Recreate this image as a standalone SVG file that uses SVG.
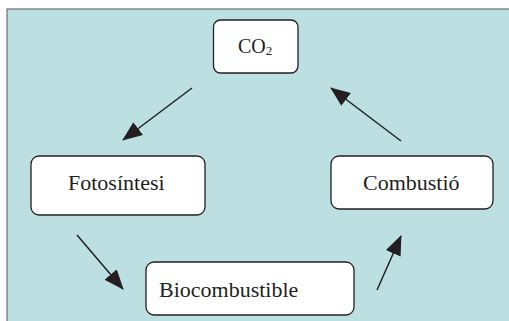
<svg xmlns="http://www.w3.org/2000/svg" width="509" height="321" viewBox="0 0 509 321">
  <style>
    .box { fill: #ffffff; stroke: #231f20; stroke-width: 1.3; }
    .lbl { font-family: 'Liberation Serif', 'DejaVu Serif', serif; font-size: 22px; fill: #231f20; }
    .sub { font-size: 13px; }
    .edge { stroke: #231f20; stroke-width: 1.5; fill: none; marker-end: url(#head); }
  </style>
  <defs>
    <marker id="head" viewBox="0 0 20 16" refX="19" refY="8" markerWidth="20" markerHeight="16" markerUnits="userSpaceOnUse" orient="auto">
      <path d="M0,0 L20,8 L0,16 Z" fill="#231f20"/>
    </marker>
  </defs>

  <!-- panel -->
  <rect x="0" y="0" width="509" height="321" fill="#ffffff"/>
  <rect x="7" y="9" width="510" height="320" fill="#bcdfe2" stroke="#555555" stroke-width="1"/>

  <g id="connectors">
    <line class="edge" x1="192" y1="88" x2="123" y2="140"/>
    <line class="edge" x1="401" y1="141" x2="331" y2="88"/>
    <line class="edge" x1="77" y1="235" x2="123" y2="289"/>
    <line class="edge" x1="377" y1="290" x2="401" y2="236"/>
  </g>

  <g id="co2">
    <rect class="box" x="213.5" y="20" width="84.5" height="53" rx="7"/>
    <text class="lbl" x="238" y="52.5" style="font-size:20px">CO<tspan class="sub" dy="2">2</tspan></text>
  </g>

  <g id="fotosintesi">
    <rect class="box" x="31" y="156" width="174" height="59" rx="8"/>
    <text class="lbl" x="68" y="190">Fotosíntesi</text>
  </g>

  <g id="combustio">
    <rect class="box" x="331" y="156" width="162" height="53" rx="8"/>
    <text class="lbl" x="363" y="190">Combustió</text>
  </g>

  <g id="biocombustible">
    <rect class="box" x="146" y="262" width="208" height="53" rx="8"/>
    <text class="lbl" x="159" y="297">Biocombustible</text>
  </g>
</svg>
